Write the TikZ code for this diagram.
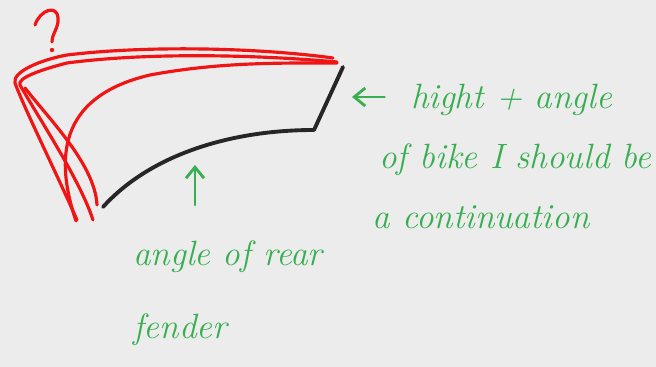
\documentclass[tikz,border=0pt]{standalone}
\usepackage{tikz}
\usetikzlibrary{arrows.meta,positioning,calc}
\definecolor{board}{RGB}{236,236,236}
\definecolor{penred}{RGB}{240,20,20}
\definecolor{pengreen}{RGB}{55,175,80}

\begin{document}
\begin{tikzpicture}[x=0.02cm, y=-0.02cm,
  redpen/.style={penred, line width=1.8pt, line cap=round, line join=round},
  blackpen/.style={black!85, line width=2.2pt, line cap=round},
  note/.style={pengreen, font=\fontsize{20}{34}\selectfont\itshape, align=left, inner sep=0pt},
  notearrow/.style={pengreen, line width=1.6pt, line cap=round, -{Straight Barb[length=2.2mm, width=3.6mm]}}
]
  \useasboundingbox[fill=board] (0,0) rectangle (656,367);

  % Question mark
  \draw[redpen] (35,25) .. controls (40,10) and (57,4) .. (58,18)
    .. controls (59,28) and (52,33) .. (52,42);
  \fill[penred] (52,50) circle (2.2);

  % Red fender strokes
  \draw[redpen] (77,220) .. controls (55,170) and (25,110) .. (15,83)
    .. controls (12,72) and (40,60) .. (67,55)
    .. controls (150,45) and (260,48) .. (333,58);
  \draw[redpen] (93,220) .. controls (80,180) and (40,120) .. (20,85)
    .. controls (17,78) and (40,70) .. (67,63)
    .. controls (150,52) and (260,55) .. (337,62);
  \draw[redpen] (97,205) .. controls (95,165) and (50,120) .. (25,88);
  \draw[redpen] (76,221) .. controls (52,150) and (65,95) .. (150,75)
    .. controls (220,62) and (280,63) .. (337,63);

  % Black outline
  \draw[blackpen] (343,67) -- (314,130);
  \draw[blackpen] (314,130) .. controls (230,130) and (150,155) .. (103,207);

  % Notes
  \coordinate (bikeTip) at (352,97);
  \coordinate (fenderTip) at (195,165);
  \node[note, anchor=north west] (bike) at (372,84)
    {\hspace{1.1em}hight + angle\\\hspace{0.2em}of bike I should be\\a continuation};
  \node[note, anchor=north west] (rear) at (133,240) {angle of rear\\[8pt]fender};

  \draw[notearrow] ([xshift=0.25cm]bike.west |- bikeTip) -- (bikeTip);
  \draw[notearrow] ([yshift=0.7cm]rear.north -| fenderTip) -- (fenderTip);
\end{tikzpicture}
\end{document}
